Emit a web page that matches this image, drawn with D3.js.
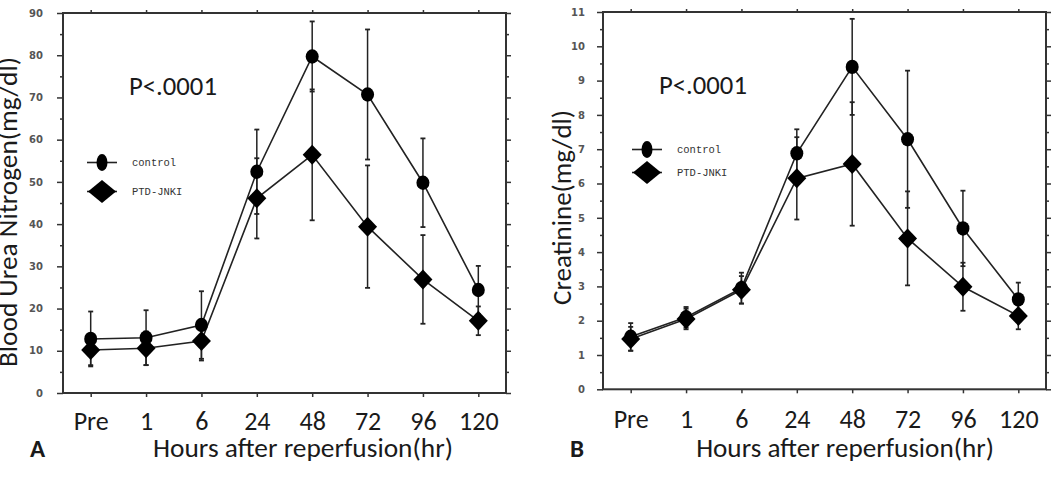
<!DOCTYPE html>
<html>
<head>
<meta charset="utf-8">
<script src="https://cdn.jsdelivr.net/npm/d3@7"></script>
<style>
  body { margin: 0; background: #fff; }
  svg { display: block; }
</style>
</head>
<body>
<svg id="chart" width="1055" height="483"></svg>
<script>
// x categories (hours after reperfusion)
var hours = ["Pre", "1", "6", "24", "48", "72", "96", "120"];
// panel A: blood urea nitrogen (mg/dl)
var bunControl   = [12.8, 13.1, 16.1, 52.4, 79.7, 70.7, 49.8, 24.4];
var bunControlSD = [6.5, 6.5, 8.0, 10.0, 8.3, 15.4, 10.5, 5.7];
var bunJnki      = [10.2, 10.6, 12.3, 46.1, 56.4, 39.4, 26.9, 17.1];
var bunJnkiSD    = [3.6, 4.0, 4.6, 9.5, 15.5, 14.5, 10.5, 3.4];
var bunTicks     = [0, 10, 20, 30, 40, 50, 60, 70, 80, 90];
// panel B: creatinine (mg/dl)
var creControl   = [1.53, 2.10, 2.95, 6.88, 9.40, 7.29, 4.69, 2.62];
var creControlSD = [0.40, 0.30, 0.45, 0.70, 1.40, 2.00, 1.10, 0.49];
var creJnki      = [1.47, 2.05, 2.90, 6.15, 6.57, 4.40, 2.99, 2.14];
var creJnkiSD    = [0.35, 0.30, 0.40, 1.20, 1.80, 1.37, 0.70, 0.39];
var creTicks     = [0, 1, 2, 3, 4, 5, 6, 7, 8, 9, 10, 11];
var seriesNames  = ["control", "PTD-JNKI"];

var svg = d3.select("#chart");
var mainFont = "Carlito, 'Open Sans', sans-serif";
var ink = "#1a1a1a";

// scale a text's font-size so its width matches the wanted width
function fitText(sel, width) {
	var len = sel.node().getComputedTextLength();
	var fs = parseFloat(sel.style("font-size"));
	sel.style("font-size", (fs * width / len) + "px");
}

function diamond(w, h) {
	return "M0," + (-h) + "L" + w + ",0L0," + h + "L" + (-w) + ",0Z";
}

function drawPanel(p) {
	var x = d3.scalePoint().domain(hours).range([p.left, p.right]).padding(0.5);
	var y = d3.scaleLinear().domain([0, p.ymax]).range([p.bottom, p.top]);
	var g = svg.append("g").attr("class", "panel-" + p.letter);

	// minor tick values (half steps)
	var minor = [];
	for (var i = 0; i < p.ticks.length - 1; i++) minor.push((p.ticks[i] + p.ticks[i + 1]) / 2);

	// left axis: labelled majors + short minors
	var left = g.append("g").attr("transform", "translate(" + p.left + ",0)")
		.call(d3.axisLeft(y).tickValues(p.ticks).tickSize(6).tickSizeOuter(0).tickPadding(p.labelGap));
	left.selectAll("text").style("font-family", "'DejaVu Sans', sans-serif")
		.style("font-size", "10px").style("fill", "#555").style("font-weight", "bold");
	g.append("g").attr("transform", "translate(" + p.left + ",0)")
		.call(d3.axisLeft(y).tickValues(minor).tickSize(3).tickSizeOuter(0).tickFormat(""));

	// right axis: ticks only
	g.append("g").attr("transform", "translate(" + p.right + ",0)")
		.call(d3.axisRight(y).tickValues(p.ticks).tickSize(5).tickSizeOuter(0).tickFormat(""));
	g.append("g").attr("transform", "translate(" + p.right + ",0)")
		.call(d3.axisRight(y).tickValues(minor).tickSize(3).tickSizeOuter(0).tickFormat(""));

	// top axis: ticks at categories
	g.append("g").attr("transform", "translate(0," + p.top + ")")
		.call(d3.axisTop(x).tickSize(3).tickSizeOuter(0).tickFormat(""));

	// bottom axis: category labels
	var bottom = g.append("g").attr("transform", "translate(0," + p.bottom + ")")
		.call(d3.axisBottom(x).tickSize(4).tickSizeOuter(0));
	bottom.selectAll("text").attr("y", p.xLabelOffset).attr("dy", 0)
		.style("font-family", mainFont).style("font-size", "26px").style("fill", ink);

	g.selectAll(".domain").remove();
	g.selectAll(".tick line").attr("stroke", "#333").attr("stroke-width", 1.5);

	// frame
	g.append("rect").attr("x", p.left).attr("y", p.top)
		.attr("width", p.right - p.left).attr("height", p.bottom - p.top)
		.attr("fill", "none").attr("stroke", "#333").attr("stroke-width", 2);

	var series = [
		{ name: seriesNames[0], values: p.control, sd: p.controlSD },
		{ name: seriesNames[1], values: p.jnki, sd: p.jnkiSD }
	];
	var line = d3.line().x(function (d, i) { return x(hours[i]); }).y(function (d) { return y(d); });

	series.forEach(function (s) {
		g.append("path").attr("d", line(s.values)).attr("fill", "none")
			.attr("stroke", "#222").attr("stroke-width", 1.6);
	});
	// error bars
	series.forEach(function (s) {
		var eb = g.append("g").attr("class", "err");
		s.values.forEach(function (v, i) {
			var cx = x(hours[i]);
			eb.append("line").attr("x1", cx).attr("x2", cx)
				.attr("y1", y(v - s.sd[i])).attr("y2", y(v + s.sd[i]))
				.attr("stroke", "#222").attr("stroke-width", 1.5);
			[v - s.sd[i], v + s.sd[i]].forEach(function (e) {
				eb.append("line").attr("x1", cx - 2.5).attr("x2", cx + 2.5)
					.attr("y1", y(e)).attr("y2", y(e))
					.attr("stroke", "#222").attr("stroke-width", 1.8);
			});
		});
	});
	// markers
	g.selectAll(".ctl").data(p.control).enter().append("ellipse")
		.attr("cx", function (d, i) { return x(hours[i]); })
		.attr("cy", function (d) { return y(d); })
		.attr("rx", 6.5).attr("ry", 7.2).attr("fill", "#000");
	g.selectAll(".jnk").data(p.jnki).enter().append("path")
		.attr("d", diamond(9.5, 10))
		.attr("transform", function (d, i) { return "translate(" + x(hours[i]) + "," + y(d) + ")"; })
		.attr("fill", "#000");

	// legend
	var lg = g.append("g").attr("class", "legend");
	series.forEach(function (s, i) {
		var ly = p.legendY[i];
		lg.append("line").attr("x1", p.legendX).attr("x2", p.legendX + 30)
			.attr("y1", ly).attr("y2", ly).attr("stroke", "#222").attr("stroke-width", 1.6);
		if (i === 0) {
			lg.append("ellipse").attr("cx", p.legendX + 15).attr("cy", ly)
				.attr("rx", 5.5).attr("ry", 8.5).attr("fill", "#000");
		} else {
			lg.append("path").attr("d", diamond(14, 11.5))
				.attr("transform", "translate(" + (p.legendX + 15) + "," + ly + ")").attr("fill", "#000");
		}
		lg.append("text").attr("x", p.legendX + 45).attr("y", ly + 3.5).text(s.name)
			.style("font-family", "'Liberation Mono', monospace").style("font-size", "10.5px")
			.style("fill", "#333");
	});

	// p value
	var pv = g.append("text").attr("x", p.pX).attr("y", p.pY).text("P<.0001")
		.style("font-family", mainFont).style("font-size", "24px").style("fill", ink);
	fitText(pv, 88);

	// axis titles
	var xt = g.append("text").attr("x", (p.xTitleL + p.xTitleR) / 2).attr("y", 456.5)
		.attr("text-anchor", "middle").text("Hours after reperfusion(hr)")
		.style("font-family", mainFont).style("font-size", "22px").style("fill", ink);
	fitText(xt, p.xTitleR - p.xTitleL);

	var yt = g.append("text")
		.attr("transform", "translate(" + p.yTitleX + "," + p.yTitleY + ") rotate(-90)")
		.attr("text-anchor", "middle").text(p.yTitle)
		.style("font-family", mainFont).style("font-size", "20px").style("fill", ink);
	fitText(yt, p.yTitleLen);

	g.append("text").attr("x", p.letterX).attr("y", 456.5).text(p.letter)
		.style("font-family", mainFont).style("font-size", "25px").style("font-weight", "bold")
		.style("fill", ink);
}

drawPanel({
	letter: "A", left: 63, right: 506, top: 13, bottom: 393, ymax: 90, ticks: bunTicks,
	labelGap: 14, xLabelOffset: 37,
	control: bunControl, controlSD: bunControlSD, jnki: bunJnki, jnkiSD: bunJnkiSD,
	legendX: 87, legendY: [162.5, 191.5],
	pX: 129, pY: 95,
	xTitleL: 153, xTitleR: 453,
	yTitle: "Blood Urea Nitrogen(mg/dl)", yTitleX: 17, yTitleY: 212, yTitleLen: 310,
	letterX: 30
});

drawPanel({
	letter: "B", left: 603, right: 1046, top: 12, bottom: 389.3, ymax: 11, ticks: creTicks,
	labelGap: 12, xLabelOffset: 39,
	control: creControl, controlSD: creControlSD, jnki: creJnki, jnkiSD: creJnkiSD,
	legendX: 632, legendY: [149.5, 172.5],
	pX: 659, pY: 94,
	xTitleL: 696, xTitleR: 994,
	yTitle: "Creatinine(mg/dl)", yTitleX: 571, yTitleY: 207.5, yTitleLen: 195,
	letterX: 570
});
</script>
</body>
</html>
